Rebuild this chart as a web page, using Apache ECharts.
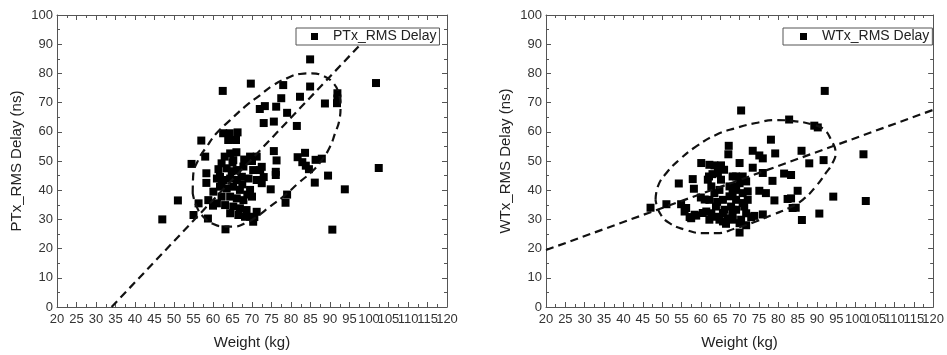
<!DOCTYPE html>
<html><head><meta charset="utf-8">
<script src="https://cdn.jsdelivr.net/npm/echarts@6/dist/echarts.min.js"></script>
<style>html,body{margin:0;padding:0;background:#fff}#c{width:947px;height:355px}</style>
</head><body><div id="c"></div>
<script>
// ---- data ----
const ptxPoints = [
  [47,30],[51,36.5],[54.5,49],[55,31.5],[56.3,35.5],[57,57],[58,51.5],[58.3,45.8],[58.3,42.5],[58.8,36.6],
  [58.7,30.3],[60,34.7],[61.4,47.2],[61.8,44.6],[62.2,43],[62.5,74],[62.6,59.5],[63.2,26.6],[63.9,57.2],[64.3,59.5],
  [66.3,59.8],[65.9,57.2],[69.7,76.5],[72,67.8],[73.3,68.8],[73,63],[75.6,63.5],[76.2,68.6],[77.5,71.5],[78,76],
  [79,66.5],[79,38.5],[78.6,35.7],[74.8,40.3],[75.6,53.4],[76.1,46.3],[76.1,45.2],[76.3,50.2],[81.5,62],[82.3,72],
  [84.9,84.8],[84.9,75.5],[81.7,51.3],[83.6,52.8],[82.9,49.6],[83.8,48.4],[84.6,47.2],[86.1,42.6],[86.3,50.4],[87.9,50.8],
  [88.7,69.7],[89.5,45],[91.9,73.2],[91.9,71.4],[91.8,69.8],[90.6,26.5],[93.8,40.3],[101.8,76.7],[102.5,47.6],[70.3,29.2],
  [70.6,30.8],[64.4,52.6],[62.2,49.2],[65.2,50.3],[66.1,46.9],[67.8,48.1],[69.5,51.5],[71.2,51.5],[70.3,46.9],[72.1,46.9],
  [61,44],[62.7,43.5],[64.4,44],[66.1,43.5],[67.4,44.6],[69.1,44],[71.2,43.5],[72.5,42.4],[61.8,41.2],[63.5,40.6],
  [65.2,41.2],[66.9,40.1],[69.5,40.1],[60.1,39.5],[62.2,37.8],[64.4,37.8],[66.1,37.2],[67.8,36.6],[61,35.5],[63.1,34.9],
  [65.2,34.4],[66.9,33.8],[68.6,33.2],[64.4,32.1],[66.5,31.5],[68.2,30.9],[69.5,30.9],[71.2,32.6],[65,49.5],[68,50.5],
  [70,50],[72.5,48],[73,44.5],[63,51.5],[66,53],[64.8,46.5],[63.5,47.5],[67.5,42],[70,37.8],[68.8,38.5]
];
const ptxFitLine = [[34,0],[100,93]];
const ptxEllipse = [
  [54.8,38.9],[54.9,44.6],[56.2,50.3],[58.4,54.9],[60.9,59.5],[64.4,64],[68.2,68.6],[72.1,72.6],[75.5,76],[78.9,78.3],
  [82.3,79.8],[85.3,80],[88.3,79.1],[90.9,76.6],[92.2,73.2],[92.7,68.6],[92.4,64],[91.3,59.5],[90,54.9],[87.9,50.3],
  [85.3,46.3],[82.3,42.9],[78,37.8],[74.6,34.4],[71.2,30.9],[68.6,28.9],[65.2,27.5],[62.5,27.6],[60.1,28.4],[57.5,30.9],
  [55.8,34.4],[54.8,38.9]
];

const wtxPoints = [
  [47,34],[51.1,35.2],[54.3,42.3],[54.9,35.2],[56.2,33.9],[57.1,30.8],[57.9,43.8],[58.2,40.5],[58.8,31.3],[60.1,49.3],
  [61,36.8],[61.4,32.7],[62.2,48.7],[62.1,44.7],[63.5,48.5],[65.2,48.5],[67.2,55.2],[67.1,52.3],[70,49.3],[70.4,67.3],
  [70,25.5],[73.4,53.5],[73.4,47.7],[73,30.8],[73.8,31.2],[75.1,51.9],[76,50.9],[76,45.9],[76,31.7],[75.1,39.8],
  [76.8,39],[78.1,57.3],[78.5,43.2],[79.2,52.6],[79,36.5],[81.5,45.7],[82.8,64.2],[83.3,45.2],[82.4,37],[83.3,37.2],
  [83.7,33.9],[84.5,34],[85,39.8],[86,53.5],[86.1,29.8],[88,49.2],[89.3,62.1],[90.2,61.5],[90.6,32],[91.7,50.3],
  [92,74],[94.2,37.8],[102,52.3],[102.6,36.3],[61.8,43.6],[62.7,41.3],[63.5,39],[63.9,34.4],[62.7,32.1],[65.2,43.6],
  [64.8,40.1],[65.7,36.7],[66.1,33.3],[64.8,29.9],[66.5,28.5],[68.2,29.9],[67.8,34.4],[67.4,37.9],[69.1,40.1],[70,42.4],
  [70.8,39],[70.8,35.6],[69.1,33.3],[70,28.7],[71.7,32.1],[71.7,28],[57.5,30.4],[58.4,31.6],[55.8,32.7],[64.4,45.9],
  [68.2,44.7],[69.1,44.7],[70.8,44.7],[71.7,43],[72.1,39.6],[72.1,36.7],[71.2,34.4],[69.1,36.7],[68.2,39],[67.4,41.3],
  [69.1,41.3],[65.7,32.2],[67,30.4],[64,30.9],[65.7,29.3],[60.5,32.2],[62.2,29.9],[68.2,31],[70.4,29.9],[68.2,33.3],
  [60,37.5],[63,45.5],[66,47],[62.2,36.7],[64.2,36]
];
const wtxFitLine = [[20,19.5],[120,67.5]];
const wtxEllipse = [
  [48.3,36.7],[48.9,41.3],[51.1,45.9],[54.5,50.5],[58.8,55],[64,59],[69.1,61.3],[74.2,63],[79.4,64],[84.5,63.6],
  [88.8,62.5],[91.8,60.8],[93.6,57.3],[94.8,52.7],[94,49.3],[92.3,45.9],[89.7,41.3],[86.3,36.7],[82.8,33.9],[78.5,31.6],
  [74.2,29.3],[69.1,27],[64,25.3],[60.5,25.3],[56.2,26.4],[51.9,28.7],[49.4,32.2],[48.3,36.7]
];

// ---- chart ----
const FONT = "'Liberation Sans', Arial, sans-serif";
const AXC = '#555';
const xLabelBase = { fontSize: 13, color: '#333', margin: 6, fontFamily: FONT,
                     showMinLabel: true, showMaxLabel: true, hideOverlap: false };
function xAxes(grid) {
  const base = {
    gridIndex: grid, type: 'value', min: 20, max: 120, interval: 5,
    axisLine: { show: true, onZero: false, lineStyle: { color: AXC, width: 1 } },
    axisTick: { show: true, inside: true, length: 5, lineStyle: { color: AXC } },
    minorTick: { show: true, splitNumber: 2, length: 3, lineStyle: { color: AXC } },
    splitLine: { show: false }
  };
  return [
    // main bottom axis: line, ticks, title and labels at the multiples of 10
    Object.assign({}, base, {
      position: 'bottom', name: 'Weight (kg)', nameLocation: 'middle', nameGap: 28,
      nameTextStyle: { fontSize: 15, color: '#222', fontFamily: FONT },
      axisLabel: Object.assign({}, xLabelBase, { formatter: v => (v % 10 === 0 ? String(v) : '') })
    }),
    // companion bottom axis carrying the labels at 25, 35, ... 115
    Object.assign({}, base, {
      position: 'bottom', axisLine: { show: false, onZero: false }, axisTick: { show: false },
      minorTick: { show: false },
      axisLabel: Object.assign({}, xLabelBase, { formatter: v => (v % 10 === 5 ? String(v) : '') })
    }),
    Object.assign({}, base, { position: 'top', axisLabel: { show: false } })
  ];
}
function yAxes(grid, title) {
  const base = {
    gridIndex: grid, type: 'value', min: 0, max: 100, interval: 10,
    axisLine: { show: true, onZero: false, lineStyle: { color: AXC, width: 1 } },
    axisTick: { show: true, inside: true, length: 5, lineStyle: { color: AXC } },
    minorTick: { show: true, splitNumber: 2, length: 3, lineStyle: { color: AXC } },
    splitLine: { show: false }
  };
  return [
    Object.assign({}, base, {
      position: 'left', name: title, nameLocation: 'middle', nameGap: 33,
      nameTextStyle: { fontSize: 15, color: '#222', fontFamily: FONT },
      axisLabel: { fontSize: 13, color: '#333', margin: 4, fontFamily: FONT,
                   showMinLabel: true, showMaxLabel: true }
    }),
    Object.assign({}, base, { position: 'right', axisLabel: { show: false } })
  ];
}
function legend(left, name, padLeft) {
  return {
    left: left, top: 28, data: [name], icon: 'rect', itemWidth: 7, itemHeight: 7,
    padding: [1, 3, 1, padLeft], borderColor: AXC, borderWidth: 1, borderRadius: 0,
    backgroundColor: '#fff', selectedMode: false,
    itemStyle: { color: '#000', opacity: 1 },
    textStyle: { fontSize: 14, color: '#222', fontFamily: FONT, lineHeight: 15, padding: [0, 0, 0, 10] }
  };
}
const dash = { color: '#111', width: 2.2, type: [8, 5] };
function lineSeries(xi, yi, data, smooth) {
  return { type: 'line', xAxisIndex: xi, yAxisIndex: yi, data: data, smooth: smooth,
    showSymbol: false, symbol: 'none', silent: true, lineStyle: dash, z: 3, animation: false };
}
const markerStyle = { color: '#000', opacity: 1 };

const chart = echarts.init(document.getElementById('c'));
chart.setOption({
  animation: false,
  textStyle: { fontFamily: FONT },
  grid: [
    { left: 57, top: 15, width: 390, height: 292 },
    { left: 546, top: 15, width: 388, height: 292 }
  ],
  xAxis: xAxes(0).concat(xAxes(1)),
  yAxis: yAxes(0, 'PTx_RMS Delay (ns)').concat(yAxes(1, 'WTx_RMS Delay (ns)')),
  legend: [legend(296, 'PTx_RMS Delay', 15), legend(783, 'WTx_RMS Delay', 17)],
  series: [
    { name: 'PTx_RMS Delay', type: 'scatter', xAxisIndex: 0, yAxisIndex: 0, data: ptxPoints,
      symbol: 'rect', symbolSize: 8, itemStyle: markerStyle, z: 2 },
    lineSeries(0, 0, ptxFitLine, false),
    lineSeries(0, 0, ptxEllipse, 0.5),
    { name: 'WTx_RMS Delay', type: 'scatter', xAxisIndex: 3, yAxisIndex: 2, data: wtxPoints,
      symbol: 'rect', symbolSize: 8, itemStyle: markerStyle, z: 2 },
    lineSeries(3, 2, wtxFitLine, false),
    lineSeries(3, 2, wtxEllipse, 0.5)
  ]
});
</script></body></html>
